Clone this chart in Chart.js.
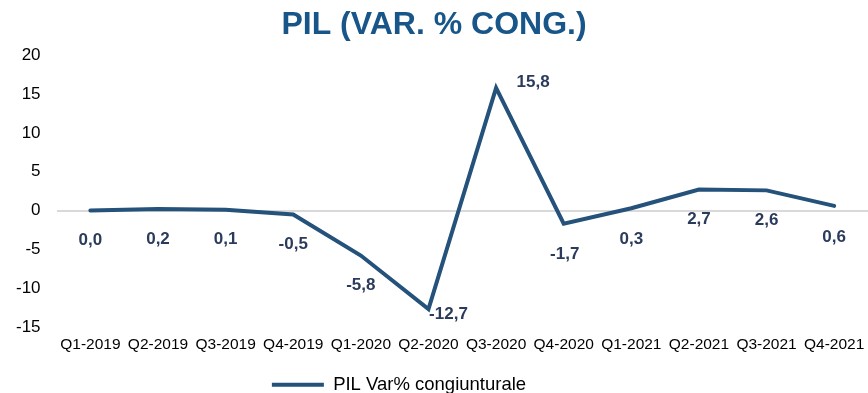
<!DOCTYPE html>
<html>
<head>
<meta charset="utf-8">
<script src="https://cdn.jsdelivr.net/npm/chart.js@4/dist/chart.umd.min.js"></script>
<style>
  html, body { margin: 0; padding: 0; background: #ffffff; overflow: hidden; }
  #wrap { width: 868px; height: 393px; }
</style>
</head>
<body>
<div id="wrap"><canvas id="c" width="868" height="393"></canvas></div>
<script>
// Quarterly GDP, % change on previous quarter
const quarters = ['Q1-2019','Q2-2019','Q3-2019','Q4-2019','Q1-2020','Q2-2020','Q3-2020','Q4-2020','Q1-2021','Q2-2021','Q3-2021','Q4-2021'];
const pilVar = [0.0, 0.2, 0.1, -0.5, -5.8, -12.7, 15.8, -1.7, 0.3, 2.7, 2.6, 0.6];
const yTicks = [-15, -10, -5, 0, 5, 10, 15, 20];

// Where each value label sits relative to its point (dx, dy in px)
const labelOffsets = [
  [0, 30], [0, 30], [0, 30], [0, 30], [0, 30], [20, 5],
  [37, -6], [1, 31], [0, 31], [0, 30], [0, 30], [0, 31]
];

const valueLabels = {
  id: 'valueLabels',
  afterDatasetsDraw(chart) {
    const ctx = chart.ctx;
    const meta = chart.getDatasetMeta(0);
    ctx.save();
    ctx.font = 'bold 17px "Liberation Sans", Arial, sans-serif';
    ctx.fillStyle = '#2b3b5c';
    ctx.textAlign = 'center';
    ctx.textBaseline = 'middle';
    meta.data.forEach((pt, i) => {
      const txt = pilVar[i].toFixed(1).replace('.', ',');
      const o = labelOffsets[i];
      ctx.fillText(txt, pt.x + o[0], pt.y + o[1]);
    });
    ctx.restore();
  }
};

// Legend sits a little left of the page centre
const legendShift = {
  id: 'legendShift',
  afterLayout(chart) {
    const lg = chart.legend;
    if (lg) { lg.left -= 35; lg.right -= 35; }
  }
};

new Chart(document.getElementById('c'), {
  type: 'line',
  data: {
    labels: quarters,
    datasets: [{
      label: 'PIL Var% congiunturale',
      data: pilVar,
      borderColor: '#24527a',
      backgroundColor: '#24527a',
      borderWidth: 4,
      pointRadius: 0,
      tension: 0,
      borderCapStyle: 'round'
    }]
  },
  options: {
    responsive: false,
    animation: false,
    layout: { padding: { left: 0, right: 0, top: 0, bottom: -11 } },
    plugins: {
      title: {
        display: true,
        text: 'PIL (VAR. % CONG.)',
        color: '#18568a',
        font: { family: '"Liberation Sans", Arial, sans-serif', size: 32, weight: 'bold' },
        padding: { top: 6, bottom: 11 }
      },
      legend: {
        position: 'bottom',
        labels: {
          color: '#000000',
          font: { family: '"Liberation Sans", Arial, sans-serif', size: 18.5 },
          boxWidth: 52,
          boxHeight: 0,
          padding: 20
        }
      },
      tooltip: { enabled: false }
    },
    scales: {
      x: {
        offset: true,
        grid: { display: false },
        border: { display: false },
        ticks: {
          color: '#000000',
          maxRotation: 0,
          autoSkip: false,
          padding: 1,
          font: { family: '"Liberation Sans", Arial, sans-serif', size: 15.5 }
        }
      },
      y: {
        min: -15,
        max: 20,
        afterBuildTicks(scale) { scale.ticks = yTicks.map(v => ({ value: v })); },
        grid: {
          drawTicks: false,
          lineWidth: 2,
          color: (c) => (c.tick && c.tick.value === 0 ? '#d9d9d9' : 'rgba(0,0,0,0)')
        },
        border: { display: false },
        ticks: {
          color: '#000000',
          padding: 16,
          font: { family: '"Liberation Sans", Arial, sans-serif', size: 17 }
        }
      }
    }
  },
  plugins: [valueLabels, legendShift]
});
</script>
</body>
</html>
